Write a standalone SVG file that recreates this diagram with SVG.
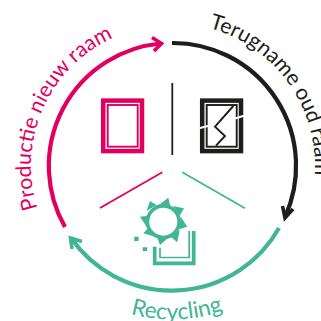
<svg xmlns="http://www.w3.org/2000/svg" width="321" height="321" viewBox="0 0 321 321">
<style>
.arc{fill:none;stroke-width:4.2}
.head{fill:none;stroke-width:3.6}
.lbl{font-family:"Lato","Noto Sans",sans-serif;font-size:21.3px}
.p{stroke:#e2005f}.k{stroke:#1d1d1b}.g{stroke:#41b594}
.tp{fill:#e2005f}.tk{fill:#1d1d1b}.tg{fill:#41b594}
.n{fill:none}
</style>
<defs>
<path id="pp" d="M37.500 208.400 A141 141 0 0 1 172 25"/>
<path id="pk" d="M209 27.900 A143 143 0 0 1 310 203"/>
<path id="pg" d="M130.500 313.800 A153.500 153.500 0 0 0 270.700 283.600"/>
</defs>
<rect width="321" height="321" fill="#fff"/>
<g id="connectors">
<path class="arc p" d="M65 227 A123 123 0 0 1 161 43.500"/>
<path class="head p" d="M152 37.500 L161.500 43.500 L154 51"/>
<path class="arc k" d="M172 43 A123 123 0 0 1 285 217"/>
<path class="head k" d="M293 209 L285 218 L282.500 206"/>
<path class="arc g" d="M279 228 A123 123 0 0 1 71 238"/>
<path class="head g" d="M72 249 L70.500 238 L82 241.500"/>
<path d="M172.300 83 V155" stroke="#1d1d1b" stroke-width="1.800" fill="none"/>
<path d="M162.300 172.300 L100 208" stroke="#e2005f" stroke-width="1.800" fill="none"/>
<path d="M182.300 172.300 L245 208.300" stroke="#41b594" stroke-width="1.800" fill="none"/>
</g>
<g id="node-productie">
<text class="lbl tp"><textPath href="#pp">Productie nieuw raam</textPath></text>
<rect x="103.200" y="100.600" width="38.800" height="50.500" class="n p" stroke-width="4.500"/>
<rect x="107.700" y="105" width="30" height="41.700" class="n p" stroke-width="1.900"/>
</g>
<g id="node-terugname">
<text class="lbl tk"><textPath href="#pk">Terugname oud raam</textPath></text>
<rect x="202.200" y="100.600" width="38.800" height="50.500" class="n k" stroke-width="4.500"/>
<rect x="206.700" y="105" width="30" height="41.700" class="n k" stroke-width="1.900"/>
<path d="M233.300 106 L215 126.700 L225 136 L216 145.700" class="n k" stroke-width="1.900"/>
<path d="M199 128.300 L209 125.700 M235 118.500 L244 115.700" stroke="#fff" stroke-width="2.200" fill="none"/>
</g>
<g id="node-recycling">
<text class="lbl tg" style="font-size:22.800px"><textPath href="#pg">Recycling</textPath></text>
<circle cx="163.300" cy="221.700" r="15.800" class="n g" stroke-width="3.600"/>
<path class="tg" d="M146.500 211 L150 201 L156.500 205Z M159.700 204.300 L168.300 197.700 L170.300 206Z M173 206 L184 208.300 L180 215.300Z M180.700 216.700 L187.300 226.700 L179.300 229.300Z M179.700 230 L177.300 242.300 L170.700 236.700Z M168.300 237.700 L160 245 L157.300 237.700Z M156 237 L143.300 233.300 L147.300 229Z M147.300 227.700 L140 216.700 L148.300 215.700Z"/>
<rect x="134.300" y="236.700" width="4.300" height="4.300" class="tg"/>
<rect x="142.700" y="247.300" width="4.500" height="3.800" class="tg"/>
<path d="M193.700 231 V263.300 H154.700 V246.700" class="n g" stroke-width="3.700"/>
<path d="M189.200 231 V257.500 H160 V247.700" class="n g" stroke-width="1.700"/>
</g>
</svg>
